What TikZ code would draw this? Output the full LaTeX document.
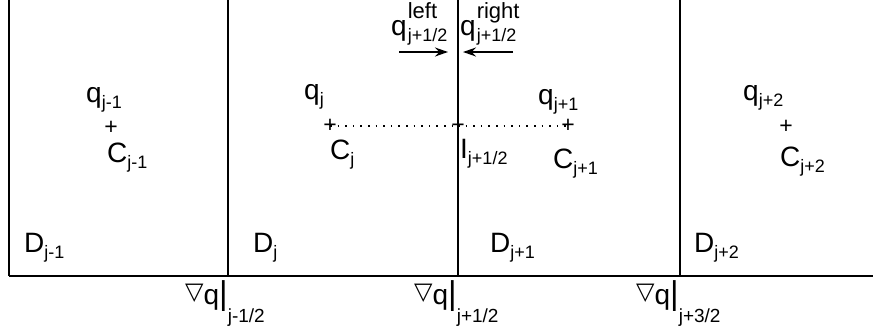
\documentclass[tikz,border=0pt]{standalone}
\usepackage{fontspec}
\setmainfont{Liberation Sans}
\newfontfamily\dejavu{DejaVu Sans}
\usetikzlibrary{arrows.meta}
\newcommand\mainsz{\fontsize{28}{28}\selectfont}
\newcommand\lo[1]{\raisebox{-6pt}{\fontsize{18}{18}\selectfont #1}}
\newcommand\lolo[1]{\raisebox{-18pt}{\fontsize{19}{19}\selectfont #1}}
\newcommand\tri{\raisebox{5pt}{\fontsize{24}{24}\dejavu ▽}}
\newcommand\bigbar{{\fontsize{33}{33}\selectfont |}}
\newcommand\supsub[2]{\kern1pt\makebox[0pt][l]{\raisebox{17pt}{\fontsize{22}{22}\selectfont #1}}\raisebox{-6pt}{\fontsize{18}{18}\selectfont #2}}
\begin{document}
\begin{tikzpicture}[x=1pt,y=-1pt,
  lbl/.style={anchor=base west,inner sep=0pt,font=\mainsz},
  ctr/.style={inner sep=0pt,font=\fontsize{23}{23}\selectfont},
  wall/.style={line width=1.8pt},
  floor/.style={line width=2.6pt},
  flux/.style={line width=1.5pt,-{Stealth[length=13pt,width=9pt]}},
  link/.style={line width=1.6pt,dash pattern=on 1.6pt off 6pt}]
\useasboundingbox (0,0) rectangle (873,333);
% walls
\coordinate (w0t) at (9,0);   \coordinate (w0b) at (9,276);
\coordinate (w1t) at (228,0); \coordinate (w1b) at (228,276);
\coordinate (w2t) at (458,0); \coordinate (w2b) at (458,276);
\coordinate (w3t) at (680,0); \coordinate (w3b) at (680,276);
\coordinate (fr) at (873,276);
\draw[wall] (w0t) -- (w0b);
\draw[wall] (w1t) -- (w1b);
\draw[wall] (w2t) -- (w2b);
\draw[wall] (w3t) -- (w3b);
\draw[floor] (w0b) -- (fr);
% centre marks
\node[ctr] (c0) at (111,128) {+};
\node[ctr] (c1) at (330,126) {+};
\node[ctr] (ci) at (458,126) {+};
\node[ctr] (c2) at (568,126) {+};
\node[ctr] (c3) at (786,127) {+};
\draw[link] (c1.center) -- (ci.center);
\draw[link] (ci.center) -- (c2.center);
% q labels
\node[lbl] (q0) at (86,102) {q\lo{j-1}};
\node[lbl] (q1) at (304,99) {q\lo{j}};
\node[lbl] (q2) at (538,104) {q\lo{j+1}};
\node[lbl] (q3) at (743,100) {q\lo{j+2}};
% C labels
\node[lbl] (C0) at (107,162) {C\lo{j-1}};
\node[lbl] (C1) at (330,159) {C\lo{j}};
\node[lbl] (I)  at (460,158) {I\lo{j+1/2}};
\node[lbl] (C2) at (553,168) {C\lo{j+1}};
\node[lbl] (C3) at (780,166) {C\lo{j+2}};
% D labels
\node[lbl] (D0) at (24,252) {D\lo{j-1}};
\node[lbl] (D1) at (253,252) {D\lo{j}};
\node[lbl] (D2) at (490,252) {D\lo{j+1}};
\node[lbl] (D3) at (694,252) {D\lo{j+2}};
% interface values
\node[lbl] (ql) at (391,35) {q\supsub{left}{j+1/2}};
\node[lbl] (qr) at (460,35) {q\supsub{right}{j+1/2}};
\coordinate (al) at (399,52); \coordinate (ar) at (513,52);
\coordinate (alt) at (448,52); \coordinate (art) at (463,52);
\draw[flux] (al) -- (alt);
\draw[flux] (ar) -- (art);
% gradients
\node[lbl] (g1) at (185,304) {\tri q\bigbar\lolo{j-1/2}};
\node[lbl] (g2) at (414,304) {\tri q\bigbar\lolo{j+1/2}};
\node[lbl] (g3) at (636,304) {\tri q\bigbar\lolo{j+3/2}};
\end{tikzpicture}
\end{document}
